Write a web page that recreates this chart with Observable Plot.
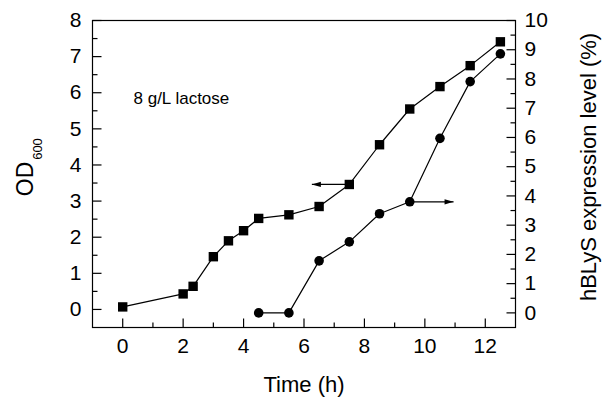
<!DOCTYPE html>
<html>
<head>
<meta charset="utf-8">
<script src="https://cdn.jsdelivr.net/npm/d3@7"></script>
<script src="https://cdn.jsdelivr.net/npm/@observablehq/plot@0.6"></script>
<style>
  html, body { margin: 0; padding: 0; background: white; }
</style>
</head>
<body>
<div id="chart"></div>
<script>
// OD600 (left axis)
const timeOD = [0, 2, 2.33, 3, 3.5, 4, 4.5, 5.5, 6.5, 7.5, 8.5, 9.5, 10.5, 11.5, 12.5];
const od600 = [0.07, 0.43, 0.64, 1.46, 1.90, 2.18, 2.52, 2.62, 2.85, 3.46, 4.56, 5.55, 6.17, 6.75, 7.41];
// hBLyS expression level % (right axis)
const timeExpr = [4.5, 5.5, 6.5, 7.5, 8.5, 9.5, 10.5, 11.5, 12.5];
const expression = [0, 0, 1.78, 2.43, 3.39, 3.80, 5.97, 7.91, 8.86];
// tick labels
const xTicks = [0, 2, 4, 6, 8, 10, 12];
const xMinor = [1, 3, 5, 7, 9, 11];
const leftTicks = [0, 1, 2, 3, 4, 5, 6, 7, 8];
const leftMinor = [0.5, 1.5, 2.5, 3.5, 4.5, 5.5, 6.5, 7.5];
const rightTicks = [0, 1, 2, 3, 4, 5, 6, 7, 8, 9, 10];
const rightMinor = [0.5, 1.5, 2.5, 3.5, 4.5, 5.5, 6.5, 7.5, 8.5, 9.5];
// arrows pointing to each series' axis
const arrowOD = {from: 7.5, to: 6.26, value: 3.46};
const arrowExpr = {from: 9.5, to: 10.95, value: 3.80};

const leftDomain = [-0.5, 8];
const rightDomain = [-0.5, 10];
// map right-axis values into the left (primary) y scale
const toLeft = v => leftDomain[0] + (v - rightDomain[0]) * (leftDomain[1] - leftDomain[0]) / (rightDomain[1] - rightDomain[0]);

const odData = timeOD.map((t, i) => ({t, v: od600[i]}));
const exData = timeExpr.map((t, i) => ({t, v: toLeft(expression[i])}));
const arrows = [
  {x1: arrowOD.from, x2: arrowOD.to, y: arrowOD.value, rot: 180},
  {x1: arrowExpr.from, x2: arrowExpr.to, y: toLeft(arrowExpr.value), rot: 0}
];

const arrowHead = {
  draw(context) {
    context.moveTo(0, 0);
    context.lineTo(-9, -2.6);
    context.lineTo(-9, 2.6);
    context.closePath();
  }
};
// inward tick shapes
const tickShape = (dx, dy) => ({
  draw(context) { context.moveTo(0, 0); context.lineTo(dx, dy); }
});
const tickStyle = {stroke: "black", strokeWidth: 1.2, fill: "none", r: 1};

const font = "'Liberation Sans', Arial, Helvetica, sans-serif";
const tickFs = 21;
const titleFs = 22;

const chart = Plot.plot({
  width: 608,
  height: 398,
  marginLeft: 92,
  marginRight: 93,
  marginTop: 20,
  marginBottom: 71,
  style: {fontFamily: font, fontSize: tickFs + "px", background: "white", color: "black"},
  x: {domain: [-1, 13], axis: null},
  y: {domain: leftDomain, axis: null},
  marks: [
    Plot.frame({stroke: "black", strokeWidth: 1.2}),
    // bottom axis
    Plot.axisX(xTicks, {anchor: "bottom", tickSize: 0, tickPadding: 11, fontSize: tickFs, label: null}),
    Plot.dot(xTicks, {x: d => d, frameAnchor: "bottom", symbol: tickShape(0, -9), ...tickStyle}),
    Plot.dot(xMinor, {x: d => d, frameAnchor: "bottom", symbol: tickShape(0, -5), ...tickStyle}),
    // left axis
    Plot.axisY(leftTicks, {anchor: "left", tickSize: 0, tickPadding: 11, fontSize: tickFs, label: null}),
    Plot.dot(leftTicks, {y: d => d, frameAnchor: "left", symbol: tickShape(9, 0), ...tickStyle}),
    Plot.dot(leftMinor, {y: d => d, frameAnchor: "left", symbol: tickShape(5, 0), ...tickStyle}),
    // right axis
    Plot.axisY(rightTicks.map(toLeft), {anchor: "right", tickSize: 0, tickPadding: 9, fontSize: tickFs, label: null,
      tickFormat: (d, i) => String(rightTicks[i])}),
    Plot.dot(rightTicks, {y: d => toLeft(d), frameAnchor: "right", symbol: tickShape(-9, 0), ...tickStyle}),
    Plot.dot(rightMinor, {y: d => toLeft(d), frameAnchor: "right", symbol: tickShape(-5, 0), ...tickStyle}),
    // series
    Plot.line(odData, {x: "t", y: "v", stroke: "black", strokeWidth: 1.2}),
    Plot.dot(odData, {x: "t", y: "v", symbol: "square", r: 5.3, fill: "black", stroke: "none"}),
    Plot.line(exData, {x: "t", y: "v", stroke: "black", strokeWidth: 1.2}),
    Plot.dot(exData, {x: "t", y: "v", symbol: "circle", r: 4.8, fill: "black", stroke: "none"}),
    // arrows
    Plot.link(arrows, {x1: "x1", x2: "x2", y1: "y", y2: "y", stroke: "black", strokeWidth: 1.2}),
    Plot.dot(arrows, {x: "x2", y: "y", symbol: arrowHead, rotate: "rot", fill: "black", stroke: "none", r: 1}),
    // annotation
    Plot.text(["8 g/L lactose"], {frameAnchor: "top-left", dx: 41, dy: 78, textAnchor: "start", lineAnchor: "middle", fontSize: 17}),
    // axis titles
    Plot.text(["Time (h)"], {frameAnchor: "bottom", dy: 57, lineAnchor: "middle", fontSize: titleFs}),
    Plot.text(["OD"], {frameAnchor: "left", dx: -67, dy: 5, rotate: -90, textAnchor: "middle", lineAnchor: "middle", fontSize: 23}),
    Plot.text(["600"], {frameAnchor: "left", dx: -55, dy: -25, rotate: -90, textAnchor: "middle", lineAnchor: "middle", fontSize: 13}),
    Plot.text(["hBLyS expression level (%)"], {frameAnchor: "right", dx: 73, dy: -7, rotate: -90, textAnchor: "middle", lineAnchor: "middle", fontSize: titleFs})
  ]
});

document.getElementById("chart").appendChild(chart);
</script>
</body>
</html>
